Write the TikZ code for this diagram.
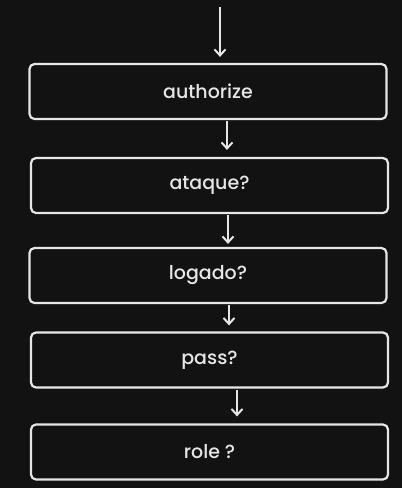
\documentclass[tikz,border=0pt]{standalone}
\usepackage{fontspec}
\setmainfont{Poppins}[BoldFont={Poppins Medium}]
\usetikzlibrary{arrows.meta}
\definecolor{canvas}{HTML}{121212}
\definecolor{ink}{HTML}{E6E6E6}
\tikzset{
  stepbox/.style={draw=ink, line width=2.2pt, rounded corners=5pt, minimum width=357pt, minimum height=55pt, text=ink, font=\fontsize{19}{21}\selectfont\bfseries},
  arr/.style={draw=ink, line width=2pt, -{Straight Barb[length=6pt,width=11pt]}}
}
\begin{document}
\begin{tikzpicture}[x=1pt, y=-1pt]
        \fill[canvas] (0,0) rectangle (402,488);
        % boxes from top to bottom
        \foreach \name/\x/\y/\label in {n1/208/91.5/authorize, n2/209.5/185.5/ataque?, n3/208/275.5/logado?, n4/209.5/360/pass?, n5/209.5/452/role ?} {
            \node[stepbox] (\name) at (\x,\y) {\label};
        }
        \coordinate (start) at (220,7);
        \draw[arr] (start) -- ([xshift=12pt, yshift=6pt]n1.north);
        \foreach \a/\b/\dx/\bx/\gap in {n1/n2/19/17.5/7, n2/n3/18.5/20/3, n3/n4/21/19.5/6, n4/n5/27.5/27.5/7} {
            \draw[arr] ([xshift=\dx pt, yshift=-1pt]\a.south) -- ([xshift=\bx pt, yshift=\gap pt]\b.north);
        }
\end{tikzpicture}
\end{document}
